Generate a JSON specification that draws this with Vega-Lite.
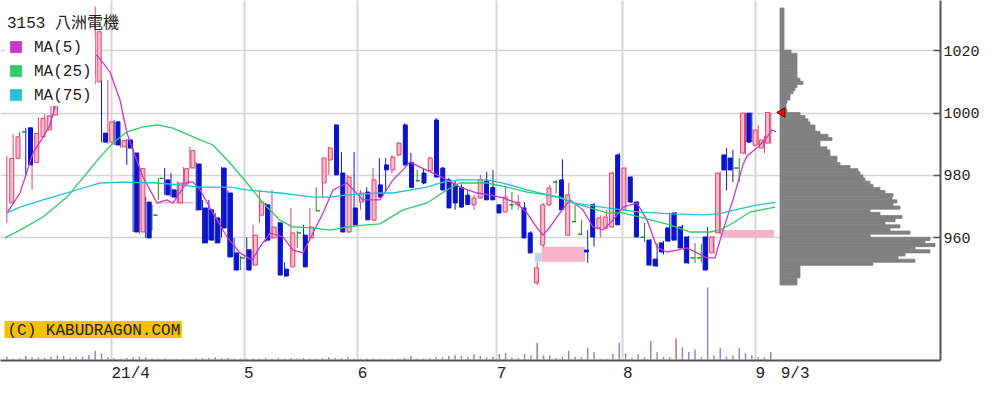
{
  "$schema": "https://vega.github.io/schema/vega-lite/v6.json",
  "width": 940,
  "height": 360,
  "padding": {"left": 0, "top": 0, "right": 0, "bottom": 12},
  "background": "white",
  "config": {"view": {"stroke": null}, "axis": {"labelFont": "Liberation Mono", "labelColor": "#222"}},
  "datasets": {
    "candles": [
      {"i":0,"o":971,"h":986,"l":964.6,"c":985.3},{"i":1,"o":985.3,"h":993,"l":981.6,"c":992.2},{"i":2,"o":993.8,"h":993.8,"l":985.8,"c":993.8},{"i":3,"o":995.1,"h":995.1,"l":980,"c":983.2},{"i":4,"o":983.9,"h":994.8,"l":975.2,"c":993.3},{"i":5,"o":992.2,"h":998.5,"l":988.5,"c":998.1},{"i":6,"o":994.4,"h":999.5,"l":993.8,"c":998.9},{"i":7,"o":999.2,"h":1004.7,"l":994.4,"c":1002.9},{"i":8,"o":1004,"h":1016,"l":1003,"c":1014},{"i":9,"o":1010,"h":1019,"l":1008,"c":1017},
      {"i":10,"o":1018,"h":1019,"l":1008,"c":1010},{"i":11,"o":1012,"h":1018,"l":1006,"c":1010},{"i":12,"o":1010,"h":1022,"l":1009,"c":1019},{"i":13,"o":1012,"h":1021,"l":1010,"c":1018},{"i":14,"o":1009.8,"h":1034,"l":1009,"c":1025.9},{"i":15,"o":993.4,"h":1010.4,"l":990.5,"c":990.5},{"i":16,"o":990.5,"h":1010.4,"l":990,"c":997},{"i":17,"o":997,"h":997.5,"l":989.6,"c":989.6},{"i":18,"o":989,"h":991.5,"l":988.7,"c":991},{"i":19,"o":991.2,"h":991.5,"l":983.2,"c":988.6},
      {"i":20,"o":987,"h":988.6,"l":961.7,"c":961.7},{"i":21,"o":961.7,"h":983,"l":961,"c":982},{"i":22,"o":971.3,"h":972.9,"l":959.8,"c":959.8},{"i":23,"o":967.1,"h":970.4,"l":962.3,"c":967.1},{"i":24,"o":978.9,"h":978.9,"l":972,"c":978.9},{"i":25,"o":978.4,"h":982.2,"l":973.6,"c":973.6},{"i":26,"o":975.2,"h":980.6,"l":972.9,"c":972.9},{"i":27,"o":971,"h":978,"l":971,"c":977.4},{"i":28,"o":977.1,"h":982.5,"l":976.5,"c":982},{"i":29,"o":982.2,"h":989,"l":982,"c":987.8},
      {"i":30,"o":983.5,"h":984,"l":968.5,"c":968.8},{"i":31,"o":969.4,"h":972,"l":958,"c":958.2},{"i":32,"o":968.8,"h":972,"l":959,"c":959.1},{"i":33,"o":966.2,"h":967.8,"l":958,"c":958.2},{"i":34,"o":982.2,"h":982.5,"l":960,"c":963},{"i":35,"o":974.2,"h":975,"l":953.7,"c":953.7},{"i":36,"o":955,"h":959.8,"l":949.5,"c":949.5},{"i":37,"o":953.4,"h":954,"l":949.5,"c":953.4},{"i":38,"o":956,"h":960,"l":949.5,"c":949.5},{"i":39,"o":951.1,"h":964,"l":951,"c":960.7},
      {"i":40,"o":967.1,"h":975.2,"l":964.6,"c":971.3},{"i":41,"o":970.4,"h":971,"l":958.5,"c":959.1},{"i":42,"o":959.8,"h":975.2,"l":959.5,"c":963.3},{"i":43,"o":964.6,"h":965,"l":947.9,"c":947.9},{"i":44,"o":949.8,"h":952,"l":947.3,"c":947.6},{"i":45,"o":950.5,"h":969.4,"l":950.5,"c":961.4},{"i":46,"o":961.4,"h":962,"l":956.6,"c":961.4},{"i":47,"o":960.7,"h":964,"l":950.5,"c":950.5},{"i":48,"o":959.8,"h":969.4,"l":959.5,"c":963.3},{"i":49,"o":968.5,"h":976,"l":968.5,"c":968.5},
      {"i":50,"o":977.4,"h":985.6,"l":972.9,"c":985.4},{"i":51,"o":984.8,"h":989,"l":980,"c":988.6},{"i":52,"o":996,"h":996.2,"l":980,"c":980},{"i":53,"o":980.6,"h":987.3,"l":961.7,"c":961.7},{"i":54,"o":961.7,"h":980,"l":961.5,"c":979.3},{"i":55,"o":969.4,"h":987.3,"l":964,"c":964},{"i":56,"o":971.3,"h":975.2,"l":968.8,"c":974.2},{"i":57,"o":974.5,"h":976.1,"l":965.6,"c":965.6},{"i":58,"o":965.5,"h":982.2,"l":965.5,"c":978.4},{"i":59,"o":976.8,"h":985.4,"l":972.9,"c":972.9},
      {"i":60,"o":983.2,"h":985.4,"l":974.5,"c":981.6},{"i":61,"o":981.6,"h":986.4,"l":980.5,"c":985.7},{"i":62,"o":986.4,"h":990.5,"l":986,"c":990.2},{"i":63,"o":996,"h":996.5,"l":983,"c":983.2},{"i":64,"o":984,"h":987,"l":976,"c":976},{"i":65,"o":978.1,"h":981.6,"l":978.1,"c":978.1},{"i":66,"o":980.6,"h":982,"l":977,"c":977.4},{"i":67,"o":981.3,"h":985.8,"l":981,"c":985.4},{"i":68,"o":997.6,"h":998.2,"l":979.3,"c":979.3},{"i":69,"o":982.2,"h":982.5,"l":975,"c":975.2},
      {"i":70,"o":978.4,"h":979,"l":969.4,"c":969.4},{"i":71,"o":977,"h":978,"l":968.8,"c":971},{"i":72,"o":976,"h":977,"l":969.5,"c":969.7},{"i":73,"o":973.5,"h":975,"l":970.4,"c":970.5},{"i":74,"o":970.4,"h":973.6,"l":968.8,"c":972.6},{"i":75,"o":972.6,"h":980,"l":972.5,"c":978.4},{"i":76,"o":978,"h":981,"l":972,"c":972},{"i":77,"o":976,"h":981.6,"l":972,"c":972},{"i":78,"o":970.4,"h":970.5,"l":967.8,"c":967.8},{"i":79,"o":968.1,"h":976.1,"l":968,"c":972.9},
      {"i":80,"o":970.4,"h":974.5,"l":968.8,"c":970.4},{"i":81,"o":970.4,"h":973.6,"l":968.8,"c":971.3},{"i":82,"o":969.4,"h":971.3,"l":959.8,"c":959.8},{"i":83,"o":961.4,"h":962,"l":955,"c":955},{"i":84,"o":945.4,"h":952,"l":944.7,"c":950.2},{"i":85,"o":957.5,"h":971,"l":956.9,"c":970.4},{"i":86,"o":970.4,"h":976.8,"l":970,"c":975.8},{"i":87,"o":977.7,"h":978.4,"l":974.2,"c":977.7},{"i":88,"o":978.4,"h":985,"l":968.8,"c":968.8},{"i":89,"o":960.7,"h":977.4,"l":960.5,"c":973.6},
      {"i":90,"o":965,"h":970.4,"l":965,"c":965},{"i":91,"o":961,"h":965.6,"l":961,"c":961},{"i":92,"o":955.9,"h":962.3,"l":951.8,"c":955.3},{"i":93,"o":970.4,"h":971,"l":957,"c":960.1},{"i":94,"o":963,"h":967,"l":960,"c":966.2},{"i":95,"o":963,"h":968.8,"l":962.5,"c":966.5},{"i":96,"o":963.3,"h":981,"l":963,"c":980.6},{"i":97,"o":986.4,"h":987,"l":964,"c":964},{"i":98,"o":968.8,"h":982.5,"l":968.5,"c":982.2},{"i":99,"o":979.3,"h":979.5,"l":971,"c":971.3},
      {"i":100,"o":971.3,"h":971.5,"l":960,"c":960.1},{"i":101,"o":960,"h":964.6,"l":958.5,"c":960},{"i":102,"o":959.1,"h":959.5,"l":951,"c":951.1},{"i":103,"o":953,"h":958,"l":950.5,"c":950.8},{"i":104,"o":958.2,"h":958.8,"l":954.5,"c":955.3},{"i":105,"o":963,"h":967.8,"l":958.5,"c":958.8},{"i":106,"o":967.8,"h":968.1,"l":959,"c":959.1},{"i":107,"o":963.3,"h":964,"l":956.5,"c":956.6},{"i":108,"o":960.1,"h":960.5,"l":951.5,"c":951.8},{"i":109,"o":953.4,"h":958.2,"l":951.8,"c":953.4},
      {"i":110,"o":953.4,"h":958,"l":952,"c":953.4},{"i":111,"o":960.1,"h":963.3,"l":949.5,"c":949.5},{"i":112,"o":955,"h":960.5,"l":954.8,"c":960.1},{"i":113,"o":961.4,"h":981,"l":961,"c":980.6},{"i":114,"o":986.4,"h":988.6,"l":975,"c":981.6},{"i":115,"o":985.4,"h":988,"l":977.7,"c":981.6},{"i":116,"o":982.2,"h":985.4,"l":977.7,"c":982.2},{"i":117,"o":987,"h":1000,"l":986.5,"c":999.8},{"i":118,"o":999.8,"h":1000,"l":990.5,"c":990.5},{"i":119,"o":989.5,"h":996,"l":989.5,"c":994.4},
      {"i":120,"o":988.6,"h":992.5,"l":987,"c":991.2},{"i":121,"o":990.2,"h":1000,"l":990,"c":1000}
    ],
    "ma": [
      {"ma":"MA(5)","i":0.03,"p":967.8},{"ma":"MA(5)","i":2.09,"p":974.2},{"ma":"MA(5)","i":4.15,"p":987.0},{"ma":"MA(5)","i":5.73,"p":992.1},{"ma":"MA(5)","i":6.84,"p":996.0},{"ma":"MA(5)","i":7.63,"p":1001.8},{"ma":"MA(5)","i":10.0,"p":1010.4},{"ma":"MA(5)","i":12.4,"p":1016.2},{"ma":"MA(5)","i":14.28,"p":1018.4},{"ma":"MA(5)","i":16.34,"p":1013.0},{"ma":"MA(5)","i":17.93,"p":1004.0},{"ma":"MA(5)","i":19.03,"p":993.4},{"ma":"MA(5)","i":19.98,"p":988.0},{"ma":"MA(5)","i":21.57,"p":979.3},{"ma":"MA(5)","i":23.79,"p":971.0},{"ma":"MA(5)","i":25.37,"p":972.0},{"ma":"MA(5)","i":26.32,"p":971.0},{"ma":"MA(5)","i":28.54,"p":977.7},{"ma":"MA(5)","i":29.49,"p":977.7},{"ma":"MA(5)","i":30.6,"p":975.2},{"ma":"MA(5)","i":32.65,"p":967.8},{"ma":"MA(5)","i":34.87,"p":960.1},{"ma":"MA(5)","i":36.93,"p":955.0},{"ma":"MA(5)","i":38.83,"p":952.7},{"ma":"MA(5)","i":40.1,"p":956.9},{"ma":"MA(5)","i":41.68,"p":961.4},{"ma":"MA(5)","i":43.74,"p":960.1},{"ma":"MA(5)","i":45.33,"p":955.9},{"ma":"MA(5)","i":46.91,"p":955.0},{"ma":"MA(5)","i":48.49,"p":961.4},{"ma":"MA(5)","i":50.08,"p":967.8},{"ma":"MA(5)","i":51.66,"p":975.2},{"ma":"MA(5)","i":53.88,"p":977.4},{"ma":"MA(5)","i":56.41,"p":972.0},{"ma":"MA(5)","i":59.1,"p":972.0},{"ma":"MA(5)","i":61.16,"p":978.4},{"ma":"MA(5)","i":62.74,"p":981.6},{"ma":"MA(5)","i":63.85,"p":984.1},{"ma":"MA(5)","i":65.44,"p":982.5},{"ma":"MA(5)","i":68.13,"p":980.0},{"ma":"MA(5)","i":69.72,"p":978.4},{"ma":"MA(5)","i":71.77,"p":976.1},{"ma":"MA(5)","i":74.47,"p":974.2},{"ma":"MA(5)","i":76.52,"p":973.6},{"ma":"MA(5)","i":78.58,"p":972.6},{"ma":"MA(5)","i":80.8,"p":971.0},{"ma":"MA(5)","i":82.38,"p":967.8},{"ma":"MA(5)","i":83.97,"p":963.0},{"ma":"MA(5)","i":84.92,"p":960.7},{"ma":"MA(5)","i":86.03,"p":963.3},{"ma":"MA(5)","i":87.61,"p":967.8},{"ma":"MA(5)","i":89.19,"p":972.0},{"ma":"MA(5)","i":91.25,"p":968.8},{"ma":"MA(5)","i":92.84,"p":963.3},{"ma":"MA(5)","i":94.42,"p":962.3},{"ma":"MA(5)","i":96.0,"p":965.5},{"ma":"MA(5)","i":97.59,"p":969.7},{"ma":"MA(5)","i":99.81,"p":971.0},{"ma":"MA(5)","i":101.39,"p":965.5},{"ma":"MA(5)","i":102.97,"p":956.9},{"ma":"MA(5)","i":104.56,"p":955.3},{"ma":"MA(5)","i":106.14,"p":955.9},{"ma":"MA(5)","i":107.72,"p":956.6},{"ma":"MA(5)","i":109.31,"p":955.0},{"ma":"MA(5)","i":110.89,"p":953.4},{"ma":"MA(5)","i":112.16,"p":953.4},{"ma":"MA(5)","i":113.43,"p":962.3},{"ma":"MA(5)","i":115.01,"p":972.0},{"ma":"MA(5)","i":116.59,"p":983.2},{"ma":"MA(5)","i":117.23,"p":986.1},{"ma":"MA(5)","i":118.97,"p":988.9},{"ma":"MA(5)","i":120.4,"p":992.1},{"ma":"MA(5)","i":121.19,"p":994.4},{"ma":"MA(5)","i":121.8,"p":993.8},
      {"ma":"MA(25)","i":-0.29,"p":959.8},{"ma":"MA(25)","i":2.09,"p":962.3},{"ma":"MA(25)","i":5.73,"p":966.5},{"ma":"MA(25)","i":9.53,"p":972.9},{"ma":"MA(25)","i":12.7,"p":980.6},{"ma":"MA(25)","i":14.76,"p":985.7},{"ma":"MA(25)","i":16.82,"p":990.2},{"ma":"MA(25)","i":19.03,"p":993.8},{"ma":"MA(25)","i":21.57,"p":995.4},{"ma":"MA(25)","i":23.79,"p":996.0},{"ma":"MA(25)","i":26.32,"p":995.0},{"ma":"MA(25)","i":30.6,"p":991.2},{"ma":"MA(25)","i":32.65,"p":989.6},{"ma":"MA(25)","i":35.35,"p":983.8},{"ma":"MA(25)","i":38.04,"p":977.4},{"ma":"MA(25)","i":40.58,"p":971.0},{"ma":"MA(25)","i":43.27,"p":965.5},{"ma":"MA(25)","i":45.33,"p":963.3},{"ma":"MA(25)","i":48.49,"p":963.0},{"ma":"MA(25)","i":51.19,"p":962.3},{"ma":"MA(25)","i":53.88,"p":963.3},{"ma":"MA(25)","i":56.41,"p":963.9},{"ma":"MA(25)","i":59.1,"p":964.3},{"ma":"MA(25)","i":62.74,"p":968.8},{"ma":"MA(25)","i":66.55,"p":971.0},{"ma":"MA(25)","i":69.72,"p":975.2},{"ma":"MA(25)","i":71.77,"p":977.4},{"ma":"MA(25)","i":76.05,"p":977.4},{"ma":"MA(25)","i":79.22,"p":976.1},{"ma":"MA(25)","i":82.38,"p":974.5},{"ma":"MA(25)","i":85.55,"p":973.6},{"ma":"MA(25)","i":87.61,"p":972.9},{"ma":"MA(25)","i":89.67,"p":971.0},{"ma":"MA(25)","i":95.05,"p":967.8},{"ma":"MA(25)","i":97.59,"p":967.8},{"ma":"MA(25)","i":100.28,"p":966.5},{"ma":"MA(25)","i":105.03,"p":964.0},{"ma":"MA(25)","i":108.2,"p":961.7},{"ma":"MA(25)","i":111.37,"p":961.7},{"ma":"MA(25)","i":112.96,"p":962.3},{"ma":"MA(25)","i":115.01,"p":964.6},{"ma":"MA(25)","i":117.71,"p":968.1},{"ma":"MA(25)","i":121.7,"p":969.7},
      {"ma":"MA(75)","i":0.03,"p":967.8},{"ma":"MA(75)","i":2.09,"p":969.7},{"ma":"MA(75)","i":5.73,"p":972.0},{"ma":"MA(75)","i":9.53,"p":974.2},{"ma":"MA(75)","i":12.07,"p":975.8},{"ma":"MA(75)","i":14.76,"p":977.4},{"ma":"MA(75)","i":18.4,"p":977.7},{"ma":"MA(75)","i":23.79,"p":977.4},{"ma":"MA(75)","i":27.43,"p":976.8},{"ma":"MA(75)","i":30.6,"p":976.1},{"ma":"MA(75)","i":35.35,"p":976.1},{"ma":"MA(75)","i":38.04,"p":975.2},{"ma":"MA(75)","i":43.27,"p":974.2},{"ma":"MA(75)","i":48.49,"p":972.9},{"ma":"MA(75)","i":51.19,"p":972.9},{"ma":"MA(75)","i":53.88,"p":973.6},{"ma":"MA(75)","i":59.1,"p":974.2},{"ma":"MA(75)","i":61.16,"p":974.2},{"ma":"MA(75)","i":66.55,"p":976.1},{"ma":"MA(75)","i":69.08,"p":977.7},{"ma":"MA(75)","i":71.77,"p":978.4},{"ma":"MA(75)","i":76.05,"p":978.4},{"ma":"MA(75)","i":78.58,"p":977.4},{"ma":"MA(75)","i":82.38,"p":975.2},{"ma":"MA(75)","i":87.61,"p":972.6},{"ma":"MA(75)","i":89.67,"p":971.0},{"ma":"MA(75)","i":95.05,"p":969.4},{"ma":"MA(75)","i":100.28,"p":968.1},{"ma":"MA(75)","i":105.51,"p":967.5},{"ma":"MA(75)","i":110.3,"p":967.2},{"ma":"MA(75)","i":113,"p":967.6},{"ma":"MA(75)","i":115.01,"p":968.6},{"ma":"MA(75)","i":118.5,"p":970.2},{"ma":"MA(75)","i":121.7,"p":971.2}
    ],
    "vol": [
      {"i":0,"v":3.3,"hl":0},{"i":1,"v":1.3,"hl":0},{"i":2,"v":1.7,"hl":0},{"i":3,"v":4,"hl":1},{"i":4,"v":2.7,"hl":0},{"i":5,"v":2.7,"hl":0},{"i":6,"v":2,"hl":0},{"i":7,"v":3.3,"hl":0},{"i":8,"v":4.7,"hl":0},{"i":9,"v":4,"hl":0},
      {"i":10,"v":2.3,"hl":0},{"i":11,"v":2.7,"hl":0},{"i":12,"v":3.3,"hl":0},{"i":13,"v":5,"hl":0},{"i":14,"v":9.3,"hl":0},{"i":15,"v":6.7,"hl":0},{"i":16,"v":2.7,"hl":0},{"i":17,"v":1.7,"hl":0},{"i":18,"v":1.3,"hl":0},{"i":19,"v":2,"hl":0},
      {"i":20,"v":2.7,"hl":0},{"i":21,"v":3.3,"hl":0},{"i":22,"v":2.7,"hl":0},{"i":23,"v":1.5,"hl":0},{"i":24,"v":1.5,"hl":0},{"i":25,"v":1.7,"hl":0},{"i":26,"v":1,"hl":0},{"i":27,"v":1,"hl":0},{"i":28,"v":1.3,"hl":0},{"i":29,"v":1,"hl":0},
      {"i":30,"v":1.7,"hl":0},{"i":31,"v":2,"hl":0},{"i":32,"v":2,"hl":0},{"i":33,"v":2.7,"hl":0},{"i":34,"v":2,"hl":0},{"i":35,"v":2,"hl":0},{"i":36,"v":1.5,"hl":0},{"i":37,"v":1.5,"hl":0},{"i":38,"v":1.5,"hl":0},{"i":39,"v":1.7,"hl":0},
      {"i":40,"v":1.5,"hl":0},{"i":41,"v":2,"hl":0},{"i":42,"v":1.5,"hl":0},{"i":43,"v":2,"hl":0},{"i":44,"v":1.5,"hl":0},{"i":45,"v":2,"hl":0},{"i":46,"v":1.5,"hl":0},{"i":47,"v":2,"hl":0},{"i":48,"v":1.5,"hl":0},{"i":49,"v":1.5,"hl":0},
      {"i":50,"v":2,"hl":0},{"i":51,"v":2.7,"hl":0},{"i":52,"v":2,"hl":0},{"i":53,"v":2,"hl":0},{"i":54,"v":2.7,"hl":0},{"i":55,"v":1.5,"hl":0},{"i":56,"v":1.3,"hl":0},{"i":57,"v":1.5,"hl":0},{"i":58,"v":1.3,"hl":0},{"i":59,"v":1.3,"hl":0},
      {"i":60,"v":1,"hl":0},{"i":61,"v":1.3,"hl":0},{"i":62,"v":1.3,"hl":0},{"i":63,"v":2,"hl":0},{"i":64,"v":4,"hl":1},{"i":65,"v":1.5,"hl":0},{"i":66,"v":1.5,"hl":0},{"i":67,"v":2,"hl":0},{"i":68,"v":2.7,"hl":0},{"i":69,"v":2.7,"hl":0},
      {"i":70,"v":4,"hl":0},{"i":71,"v":4.7,"hl":0},{"i":72,"v":4,"hl":0},{"i":73,"v":2.7,"hl":0},{"i":74,"v":6,"hl":0},{"i":75,"v":4,"hl":0},{"i":76,"v":2.7,"hl":0},{"i":77,"v":3.3,"hl":0},{"i":78,"v":6,"hl":0},{"i":79,"v":7.3,"hl":0},
      {"i":80,"v":2.7,"hl":0},{"i":81,"v":2,"hl":0},{"i":82,"v":6,"hl":0},{"i":83,"v":4.7,"hl":0},{"i":84,"v":17.3,"hl":1},{"i":85,"v":4.7,"hl":0},{"i":86,"v":4.7,"hl":0},{"i":87,"v":2,"hl":0},{"i":88,"v":3.3,"hl":0},{"i":89,"v":9.3,"hl":0},
      {"i":90,"v":3.3,"hl":0},{"i":91,"v":2.7,"hl":0},{"i":92,"v":12.3,"hl":0},{"i":93,"v":8,"hl":0},{"i":94,"v":1.3,"hl":0},{"i":95,"v":1.3,"hl":0},{"i":96,"v":6,"hl":0},{"i":97,"v":17.3,"hl":0},{"i":98,"v":6.7,"hl":0},{"i":99,"v":2.3,"hl":0},
      {"i":100,"v":6,"hl":0},{"i":101,"v":2.7,"hl":0},{"i":102,"v":19,"hl":0},{"i":103,"v":7.7,"hl":0},{"i":104,"v":3.3,"hl":0},{"i":105,"v":2.7,"hl":0},{"i":106,"v":21.7,"hl":1},{"i":107,"v":12.7,"hl":0},{"i":108,"v":8,"hl":0},{"i":109,"v":10.7,"hl":0},
      {"i":110,"v":2.7,"hl":0},{"i":111,"v":72.7,"hl":0},{"i":112,"v":4.7,"hl":0},{"i":113,"v":12,"hl":0},{"i":114,"v":3.3,"hl":0},{"i":115,"v":4.7,"hl":0},{"i":116,"v":12,"hl":0},{"i":117,"v":6.7,"hl":0},{"i":118,"v":4.7,"hl":0},{"i":119,"v":2.7,"hl":0},
      {"i":120,"v":2.7,"hl":0},{"i":121,"v":8,"hl":0}
    ],
    "profile": [
      {"lo":944.7,"hi":946,"w":17},{"lo":946,"hi":947,"w":17},{"lo":947,"hi":948,"w":20},{"lo":948,"hi":949,"w":20},{"lo":949,"hi":950,"w":20},{"lo":950,"hi":951,"w":20},{"lo":951,"hi":952,"w":93},{"lo":952,"hi":953,"w":135},{"lo":953,"hi":954,"w":118},{"lo":954,"hi":955,"w":125},
      {"lo":955,"hi":956,"w":150},{"lo":956,"hi":957,"w":135},{"lo":957,"hi":958,"w":155},{"lo":958,"hi":959,"w":145},{"lo":959,"hi":960,"w":150},{"lo":960,"hi":961,"w":90},{"lo":961,"hi":962,"w":130},{"lo":962,"hi":963,"w":110},{"lo":963,"hi":964,"w":120},{"lo":964,"hi":965,"w":105},
      {"lo":965,"hi":966,"w":115},{"lo":966,"hi":967,"w":122},{"lo":967,"hi":968,"w":100},{"lo":968,"hi":969,"w":90},{"lo":969,"hi":970,"w":120},{"lo":970,"hi":971,"w":113},{"lo":971,"hi":972,"w":117},{"lo":972,"hi":973,"w":112},{"lo":973,"hi":974,"w":113},{"lo":974,"hi":975,"w":105},
      {"lo":975,"hi":976,"w":100},{"lo":976,"hi":977,"w":93},{"lo":977,"hi":978,"w":90},{"lo":978,"hi":979,"w":85},{"lo":979,"hi":980,"w":83},{"lo":980,"hi":981,"w":80},{"lo":981,"hi":982,"w":78},{"lo":982,"hi":983,"w":70},{"lo":983,"hi":984,"w":60},{"lo":984,"hi":985,"w":57},
      {"lo":985,"hi":986,"w":57},{"lo":986,"hi":987,"w":50},{"lo":987,"hi":988,"w":50},{"lo":988,"hi":989,"w":47},{"lo":989,"hi":990,"w":40},{"lo":990,"hi":991,"w":40},{"lo":991,"hi":992,"w":52},{"lo":992,"hi":993,"w":48},{"lo":993,"hi":994,"w":40},{"lo":994,"hi":995,"w":35},
      {"lo":995,"hi":996,"w":35},{"lo":996,"hi":997,"w":30},{"lo":997,"hi":998,"w":28},{"lo":998,"hi":999,"w":25},{"lo":999,"hi":1000,"w":20},{"lo":1000,"hi":1001,"w":7},{"lo":1001,"hi":1002,"w":6},{"lo":1002,"hi":1003,"w":6},{"lo":1003,"hi":1004,"w":7},{"lo":1004,"hi":1005,"w":10},
      {"lo":1005,"hi":1006,"w":10},{"lo":1006,"hi":1007,"w":13},{"lo":1007,"hi":1008,"w":15},{"lo":1008,"hi":1009,"w":17},{"lo":1009,"hi":1010,"w":23},{"lo":1010,"hi":1011,"w":20},{"lo":1011,"hi":1012,"w":17},{"lo":1012,"hi":1013,"w":17},{"lo":1013,"hi":1014,"w":17},{"lo":1014,"hi":1015,"w":17},
      {"lo":1015,"hi":1016,"w":17},{"lo":1016,"hi":1017,"w":17},{"lo":1017,"hi":1018,"w":17},{"lo":1018,"hi":1019,"w":17},{"lo":1019,"hi":1020,"w":11},{"lo":1020,"hi":1033.5,"w":4}
    ],
    "gaps": [
      {"a":83.65,"b":84.7,"lo":952.2,"hi":955.0,"kind":"gap"},
      {"a":84.7,"b":91.6,"lo":952.2,"hi":957.0,"kind":"window"},
      {"a":23.8,"b":29.5,"lo":970.8,"hi":971.3,"kind":"window"},
      {"a":113.2,"b":121.5,"lo":960.0,"hi":962.3,"kind":"window"}
    ]
  },
  "layer": [
    {
      "data": {"name": "gaps"},
      "mark": {"type": "rect"},
      "encoding": {
        "x": {"field": "a", "type": "quantitative", "scale": {"domain": [-1.08, 147.8], "nice": false, "zero": false},
          "axis": {"values": [16.5, 37.5, 55.5, 77.5, 97.5, 118.5, 122.5], "labelExpr": "datum.value == 16.5 ? '21/4' : datum.value == 37.5 ? '5' : datum.value == 55.5 ? '6' : datum.value == 77.5 ? '7' : datum.value == 97.5 ? '8' : datum.value == 118.5 ? '9' : '9/3'", "grid": true, "gridColor": {"condition": {"test": "datum.value == 122.5", "value": "transparent"}, "value": "#d6d6d6"}, "gridWidth": 2, "ticks": false, "domainColor": "#555", "domainWidth": 2, "labelAlign": "left", "labelBaseline": "top", "labelDx": 2, "labelPadding": 4, "labelFontSize": 16, "labelFlush": false, "labelOverlap": false, "title": null}},
        "x2": {"field": "b"},
        "y": {"field": "lo", "type": "quantitative", "scale": {"domain": [920.67, 1036.06], "nice": false, "zero": false},
          "axis": {"orient": "right", "values": [960, 980, 1000, 1020], "format": "d", "grid": true, "gridColor": "#d6d6d6", "gridWidth": 1.5, "domainColor": "#555", "domainWidth": 2, "tickColor": "#555", "tickSize": -7, "tickWidth": 1.5, "labelPadding": 10, "labelFontSize": 15, "title": null}},
        "y2": {"field": "hi"},
        "fill": {"condition": {"test": "datum.kind == 'gap'", "value": "#b8d4f0"}, "value": "#f5b3ca"}
      }
    },
    {
      "data": {"name": "profile"},
      "mark": {"type": "rect", "fill": "#808080", "stroke": "#808080", "strokeWidth": 0.8},
      "encoding": {
        "y": {"field": "lo", "type": "quantitative", "scale": {"domain": [920.67, 1036.06], "nice": false, "zero": false}, "axis": null},
        "y2": {"field": "hi"},
        "x": {"field": "w", "type": "quantitative", "scale": {"domain": [0, 160], "range": [780, 940], "nice": false, "zero": false}, "axis": null},
        "x2": {"datum": 0}
      }
    },
    {
      "data": {"name": "candles"},
      "mark": {"type": "rule", "strokeWidth": 1},
      "encoding": {
        "x": {"field": "i", "type": "quantitative", "scale": {"domain": [-1.08, 147.8], "nice": false, "zero": false}, "axis": null},
        "y": {"field": "l", "type": "quantitative", "scale": {"domain": [920.67, 1036.06], "nice": false, "zero": false}, "axis": null},
        "y2": {"field": "h"},
        "stroke": {"condition": [{"test": "datum.c > datum.o", "value": "#e0406a"}, {"test": "datum.c < datum.o", "value": "#1018c8"}], "value": "#228b22"}
      }
    },
    {
      "data": {"name": "candles"},
      "mark": {"type": "bar", "size": 4, "strokeWidth": 1},
      "encoding": {
        "x": {"field": "i", "type": "quantitative", "scale": {"domain": [-1.08, 147.8], "nice": false, "zero": false}, "axis": null},
        "y": {"field": "o", "type": "quantitative", "scale": {"domain": [920.67, 1036.06], "nice": false, "zero": false}, "axis": null},
        "y2": {"field": "c"},
        "fill": {"condition": [{"test": "datum.c > datum.o", "value": "#f7bccb"}, {"test": "datum.c < datum.o", "value": "#0a14c8"}], "value": "#228b22"},
        "stroke": {"condition": [{"test": "datum.c > datum.o", "value": "#e0406a"}, {"test": "datum.c < datum.o", "value": "#0a14c8"}], "value": "#228b22"}
      }
    },
    {
      "data": {"name": "ma"},
      "mark": {"type": "line", "strokeWidth": 1.3},
      "encoding": {
        "x": {"field": "i", "type": "quantitative", "scale": {"domain": [-1.08, 147.8], "nice": false, "zero": false}, "axis": null},
        "y": {"field": "p", "type": "quantitative", "scale": {"domain": [920.67, 1036.06], "nice": false, "zero": false}, "axis": null},
        "color": {"field": "ma", "type": "nominal",
          "scale": {"domain": ["MA(5)", "MA(25)", "MA(75)"], "range": ["#cc33cc", "#2ecc66", "#22c4d4"]},
          "legend": {"title": null, "orient": "none", "legendX": 5, "legendY": 36, "symbolType": "square", "symbolSize": 140, "symbolStrokeWidth": 0, "labelFont": "Liberation Mono", "labelFontSize": 16, "labelColor": "#222", "labelOffset": 10, "rowPadding": 8, "padding": 3, "fillColor": "white",
            "encode": {"symbols": {"update": {"fill": {"scale": "color", "field": "value"}, "strokeWidth": {"value": 0}}}}}
        }
      }
    },
    {
      "data": {"values": [{"p": 1000}]},
      "mark": {"type": "point", "shape": "triangle-left", "size": 90, "filled": true, "fill": "#e01010", "stroke": "#700000", "strokeWidth": 1, "opacity": 1},
      "encoding": {
        "x": {"datum": 122.6, "type": "quantitative", "scale": {"domain": [-1.08, 147.8], "nice": false, "zero": false}, "axis": null},
        "y": {"field": "p", "type": "quantitative", "scale": {"domain": [920.67, 1036.06], "nice": false, "zero": false}, "axis": null}
      }
    },
    {
      "data": {"values": [{"label": "(C) KABUDRAGON.COM"}]},
      "mark": {"type": "rect", "fill": "#f2c200"},
      "encoding": {
        "x": {"datum": -0.38, "type": "quantitative", "scale": {"domain": [-1.08, 147.8], "nice": false, "zero": false}, "axis": null},
        "x2": {"datum": 27.74},
        "y": {"datum": 933.2, "type": "quantitative", "scale": {"domain": [920.67, 1036.06], "nice": false, "zero": false}, "axis": null},
        "y2": {"datum": 927.7}
      }
    },
    {
      "data": {"values": [{"label": "(C) KABUDRAGON.COM"}]},
      "mark": {"type": "text", "align": "left", "baseline": "middle", "font": "Liberation Mono", "fontSize": 16, "color": "#222"},
      "encoding": {
        "x": {"datum": 0.1, "type": "quantitative", "scale": {"domain": [-1.08, 147.8], "nice": false, "zero": false}, "axis": null},
        "y": {"datum": 930.4, "type": "quantitative", "scale": {"domain": [920.67, 1036.06], "nice": false, "zero": false}, "axis": null},
        "text": {"field": "label"}
      }
    },
    {
      "data": {"values": [{"label": "3153 八洲電機"}]},
      "mark": {"type": "text", "align": "left", "baseline": "middle", "font": "'Liberation Mono', 'Noto Sans CJK JP'", "fontSize": 16, "color": "#222"},
      "encoding": {
        "x": {"datum": 0.03, "type": "quantitative", "scale": {"domain": [-1.08, 147.8], "nice": false, "zero": false}, "axis": null},
        "y": {"datum": 1028.8, "type": "quantitative", "scale": {"domain": [920.67, 1036.06], "nice": false, "zero": false}, "axis": null},
        "text": {"field": "label"}
      }
    },
    {
      "data": {"name": "vol"},
      "mark": {"type": "rule", "strokeWidth": 1.5},
      "encoding": {
        "x": {"field": "i", "type": "quantitative", "scale": {"domain": [-1.08, 147.8], "nice": false, "zero": false}, "axis": null},
        "y": {"field": "v", "type": "quantitative", "scale": {"domain": [0, 360], "nice": false, "zero": false}, "axis": null},
        "y2": {"datum": 0},
        "stroke": {"condition": {"test": "datum.hl == 1", "value": "#c87070"}, "value": "#8c8cc8"}
      }
    }
  ],
  "resolve": {"scale": {"x": "independent", "y": "independent"}}
}
